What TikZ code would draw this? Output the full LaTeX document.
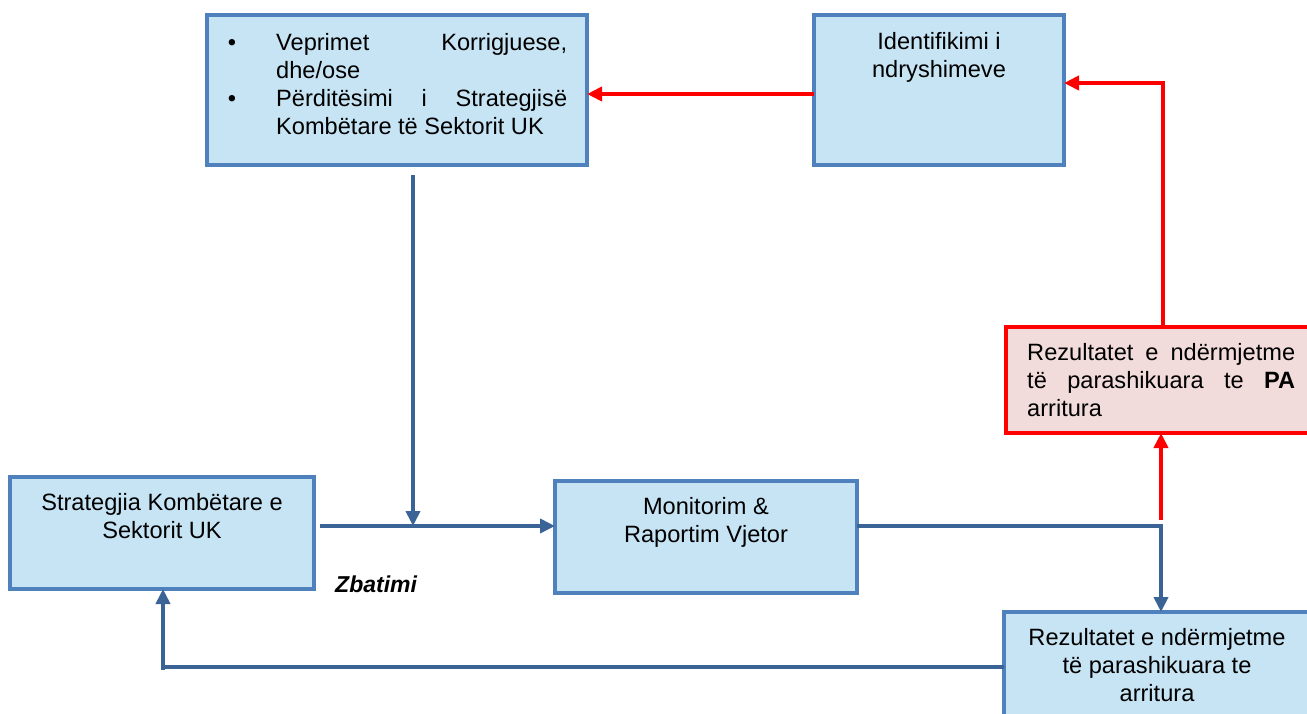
\documentclass[tikz,border=0pt]{standalone}
\usepackage{fontspec}
\setmainfont{Liberation Sans}
\usetikzlibrary{arrows.meta,calc}
\definecolor{boxfill}{HTML}{C6E4F4}
\definecolor{boxborder}{HTML}{4F81BD}
\definecolor{connblue}{HTML}{3A6396}
\definecolor{redfill}{HTML}{F2DBDB}
\definecolor{pured}{HTML}{FF0000}
\tikzset{
  bluebox/.style={draw=boxborder, fill=boxfill, line width=4pt, inner sep=0pt, outer sep=0pt, anchor=north west},
  redbox/.style={draw=pured, fill=redfill, line width=4pt, inner sep=0pt, outer sep=0pt, anchor=north west},
  txt/.style={inner sep=0pt, font=\fontsize{23.6}{28}\selectfont},
  conn/.style={draw=connblue, line width=4pt, -{Triangle[length=15pt,width=14pt]}},
  connline/.style={draw=connblue, line width=4pt},
  redconn/.style={draw=pured, line width=4pt, -{Triangle[length=15pt,width=14pt]}},
}
\begin{document}
\begin{tikzpicture}[x=1pt,y=-1pt]
\useasboundingbox (0,0) rectangle (1307,713);
\clip (0,0) rectangle (1307,713);
\fill[white] (0,0) rectangle (1307,713);
% boxes
\node[bluebox, minimum width=380pt, minimum height=150pt] (tl) at (207,15) {};
\node[bluebox, minimum width=250pt, minimum height=150pt] (id) at (814,15) {};
\node[bluebox, minimum width=304pt, minimum height=112pt] (st) at (10,477) {};
\node[bluebox, minimum width=302pt, minimum height=112pt] (mon) at (555,481) {};
\node[redbox, minimum width=360pt, minimum height=106pt] (rb) at (1006,327) {};
\node[bluebox, minimum width=360pt, minimum height=120pt] (br) at (1004,612) {};
% texts
\node[txt, anchor=base] (b1) at (232,50) {•};
\node[txt, anchor=base] (b2) at (232,106) {•};
\node[txt, anchor=base west] (tltext) at (276,50) {\parbox[t]{291pt}{\makebox[291pt]{Veprimet\hfill Korrigjuese,}\\dhe/ose\\\makebox[291pt]{Përditësimi\hfill i\hfill Strategjisë}\\Kombëtare të Sektorit UK}};
\node[txt, anchor=base] (idtext) at (939,49) {\parbox[t]{240pt}{\centering Identifikimi i\\ndryshimeve}};
\node[txt, anchor=base] (sttext) at (162,510) {\parbox[t]{300pt}{\centering Strategjia Kombëtare e\\Sektorit UK}};
\node[txt, anchor=base] (montext) at (706,514) {\parbox[t]{300pt}{\centering Monitorim \&\\Raportim Vjetor}};
\node[txt, anchor=base west] (rbtext) at (1027,360) {\parbox[t]{268pt}{\makebox[268pt]{Rezultatet\hfill e\hfill ndërmjetme}\\\makebox[268pt]{të\hfill parashikuara\hfill te\hfill \textbf{PA}}\\arritura}};
\node[txt, anchor=base] (brtext) at (1157,645) {\parbox[t]{300pt}{\centering Rezultatet e ndërmjetme\\të parashikuara te\\arritura}};
\node[txt, anchor=base west, font=\fontsize{23}{28}\selectfont\bfseries\itshape] (zb) at (335,592) {Zbatimi};
% coordinates
\coordinate (j) at (1161,526);
\coordinate (tlout) at (413,175);
\coordinate (stout) at (320,526);
\coordinate (corner) at (163,667);
% connectors
\draw[conn] (tlout) -- (tlout |- j);
\draw[conn] (stout) -- (mon.west |- j);
\draw[connline] (mon.east |- j) -- (j);
\draw[conn] ($(j)+(0,-2)$) -- (br.north -| j);
\draw[connline] (br.west |- corner) -- ($(corner)+(-2,0)$);
\draw[conn] ($(corner)+(0,3)$) -- (st.south -| corner);
\draw[redconn] ($(j)+(0,-6)$) -- (rb.south -| j);
\draw[redconn] (rb.north -| 1163,0) |- (id.east |- 0,83);
\draw[redconn] (id.west |- 0,94) -- (tl.east |- 0,94);
\end{tikzpicture}
\end{document}
